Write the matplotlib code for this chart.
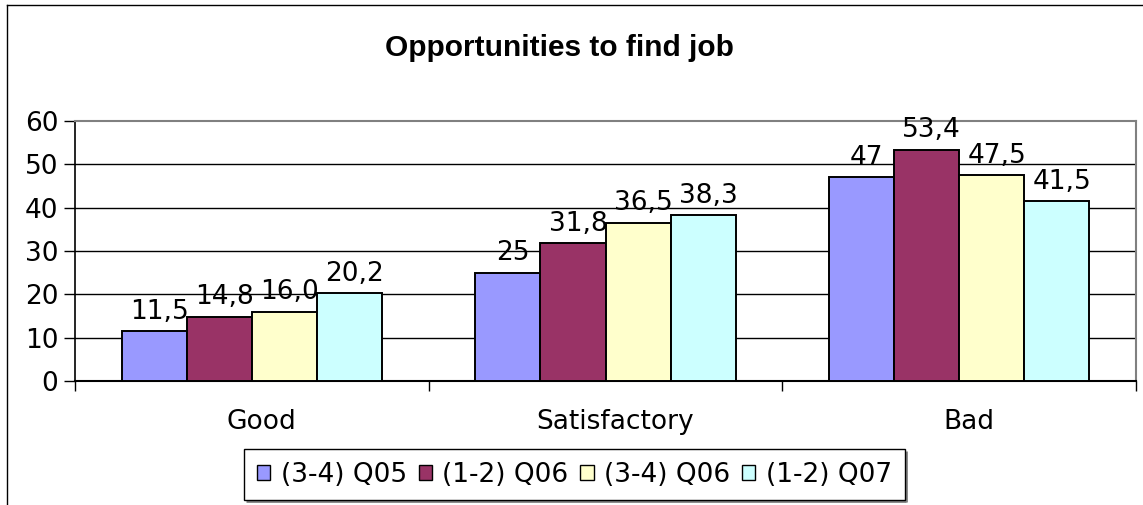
import matplotlib
matplotlib.use("Agg")
import matplotlib.pyplot as plt
from matplotlib.lines import Line2D
from matplotlib.patches import Patch
from matplotlib.transforms import ScaledTranslation, offset_copy
import numpy as np

# ---- data -------------------------------------------------------------
categories = ["Good", "Satisfactory", "Bad"]
series_names = ["(3-4) Q05", "(1-2) Q06", "(3-4) Q06", "(1-2) Q07"]

# values as printed above the bars (decimal comma)
q05_34 = ["11,5", "25", "47"]
q06_12 = ["14,8", "31,8", "53,4"]
q06_34 = ["16,0", "36,5", "47,5"]
q07_12 = ["20,2", "38,3", "41,5"]

y_ticks = [0, 10, 20, 30, 40, 50, 60]
colors = ["#9999FF", "#993366", "#FFFFCC", "#CCFFFF"]

series_labels = [q05_34, q06_12, q06_34, q07_12]
series_values = [[float(s.replace(",", ".")) for s in lab] for lab in series_labels]

# ---- figure -----------------------------------------------------------
W, H, DPI = 1143, 505, 100
plt.rcParams["font.family"] = "DejaVu Sans"
fig = plt.figure(figsize=(W / DPI, H / DPI), dpi=DPI, facecolor="white")

# chart border (left and top edges)
fig.add_artist(Line2D([7 / W, 7 / W], [0, 1 - 5 / H], transform=fig.transFigure,
                      color="black", lw=1.0))
fig.add_artist(Line2D([7 / W, 1], [1 - 5 / H, 1 - 5 / H], transform=fig.transFigure,
                      color="black", lw=1.0))

left, right, top, bottom = 75, 1136, 121, 381
ax = fig.add_axes([left / W, 1 - bottom / H, (right - left) / W, (bottom - top) / H])

x = np.arange(len(categories))
bar_w = 0.184
offsets = (np.arange(len(series_names)) - 1.5) * bar_w

label_tf = offset_copy(ax.transData, fig=fig, x=5, y=12.5, units="dots")
for vals, labs, off, col in zip(series_values, series_labels, offsets, colors):
    ax.bar(x + off, vals, width=bar_w, color=col, edgecolor="black",
           linewidth=1.4, zorder=3)
    for xi, v, s in zip(x + off, vals, labs):
        ax.text(xi, v, s, transform=label_tf, ha="center", va="baseline",
                fontsize=19, color="black", zorder=4)

ax.set_xlim(-0.5, len(categories) - 0.5)
ax.set_ylim(0, 60)
ax.set_yticks(y_ticks)
ax.set_yticklabels([str(t) for t in y_ticks])

# horizontal gridlines
for t in y_ticks[1:-1]:
    ax.axhline(t, color="black", lw=1.0, zorder=1)

# spines
for side in ("top", "right"):
    ax.spines[side].set_color("#808080")
    ax.spines[side].set_linewidth(1.5)
ax.spines["left"].set_color("black")
ax.spines["bottom"].set_color("black")
ax.spines["left"].set_linewidth(1.2)
ax.spines["bottom"].set_linewidth(1.5)

ax.tick_params(axis="y", direction="out", length=8, width=1.0, pad=4,
               labelsize=19, colors="black")

# category tick marks at boundaries, labels at centers
ax.set_xticks(np.arange(-0.5, len(categories)), minor=True)
ax.set_xticks(x)
ax.set_xticklabels(categories)
ax.tick_params(axis="x", which="minor", direction="out", length=7, width=1.0)
ax.tick_params(axis="x", which="major", length=0, pad=20, labelsize=19)
shift = ScaledTranslation(10 / DPI, 0, fig.dpi_scale_trans)
for lbl in ax.get_xticklabels():
    lbl.set_transform(lbl.get_transform() + shift)

# title
fig.text(559 / W, 1 - 56.5 / H, "Opportunities to find job", ha="center",
         va="baseline", fontsize=21.5, fontweight="bold", family="Liberation Sans")

# legend
handles = [Patch(facecolor=c, edgecolor="black", linewidth=1.0) for c in colors]
leg = fig.legend(handles, series_names, loc="center",
                 bbox_to_anchor=(574.5 / W, 1 - 474.5 / H), ncol=4,
                 fontsize=19, handlelength=0.5, handleheight=0.5,
                 handletextpad=0.4, columnspacing=0.45, borderpad=0.48,
                 frameon=True, fancybox=False, framealpha=1)
leg.get_frame().set_edgecolor("black")
leg.get_frame().set_linewidth(1.0)

# grey drop shadow along the legend's bottom and right edges
fig.canvas.draw()
bb = leg.get_frame().get_window_extent()
shadow_kw = dict(transform=None, color="#808080", lw=2.0, solid_capstyle="butt")
fig.add_artist(Line2D([bb.x0 + 2, bb.x1 + 1.5], [bb.y0 - 1.2, bb.y0 - 1.2], **shadow_kw))
fig.add_artist(Line2D([bb.x1 + 1.2, bb.x1 + 1.2], [bb.y0 - 2, bb.y1 - 2], **shadow_kw))

fig.savefig("out.png", dpi=DPI, facecolor="white")
